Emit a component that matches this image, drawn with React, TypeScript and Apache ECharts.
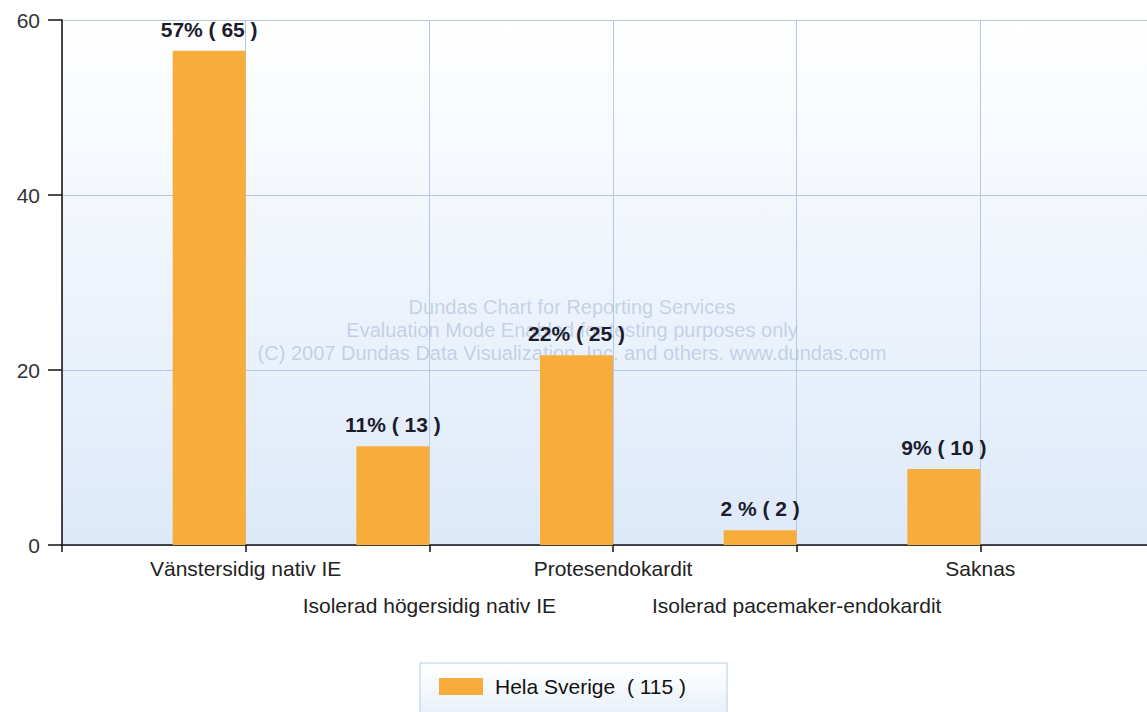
import React, { useEffect, useRef } from "react";
import * as echarts from "echarts";

const categories = [
  "Vänstersidig nativ IE",
  "Isolerad högersidig nativ IE",
  "Protesendokardit",
  "Isolerad pacemaker-endokardit",
  "Saknas",
];
const categoryPositions = [1, 2, 3, 4, 5];
const percentValues = [56.5, 11.3, 21.7, 1.7, 8.7];
const dataLabels = ["57% ( 65 )", "11% ( 13 )", "22% ( 25 )", "2 % ( 2 )", "9% ( 10 )"];
const seriesName = "Hela Sverige";
const seriesTotal = 115;
const yTicks = [0, 20, 40, 60];
const watermarkLines = [
  "Dundas Chart for Reporting Services",
  "Evaluation Mode Enabled for testing purposes only",
  "(C) 2007 Dundas Data Visualization, Inc. and others. www.dundas.com",
];

const FONT = "'Liberation Sans', Arial, sans-serif";
const CHART_W = 1200;

export default function App() {
  const ref = useRef<HTMLDivElement>(null);

  useEffect(() => {
    if (!ref.current) return;
    const chart = echarts.init(ref.current, null, { renderer: "svg" });

    const barData = categoryPositions.map((x, i) => [x, percentValues[i]]);
    const dummyData = categoryPositions.map((x) => [x, null]);

    chart.setOption({
      animation: false,
      backgroundColor: "#ffffff",
      textStyle: { fontFamily: FONT },
      grid: {
        left: 62,
        right: CHART_W - 1164,
        top: 20,
        bottom: 167,
        show: true,
        borderWidth: 0,
        backgroundColor: new echarts.graphic.LinearGradient(0, 0, 0, 1, [
          { offset: 0, color: "#ffffff" },
          { offset: 1, color: "#dde9f9" },
        ]),
      },
      xAxis: {
        type: "value",
        min: 0,
        max: 6,
        interval: 1,
        axisLine: { show: true, onZero: false, lineStyle: { color: "#111", width: 1.5 } },
        axisTick: { show: true, length: 7, lineStyle: { color: "#111", width: 1.5 } },
        splitLine: { show: true, lineStyle: { color: "#b3c9e6", width: 1 } },
        axisLabel: {
          margin: 5,
          fontSize: 21,
          lineHeight: 37,
          color: "#222",
          fontFamily: FONT,
          showMinLabel: true,
          showMaxLabel: true,
          formatter: (v: number) => {
            const i = Math.round(v) - 1;
            if (i < 0 || i >= categories.length) return "";
            return i % 2 === 0 ? categories[i] : "\n" + categories[i];
          },
        },
      },
      yAxis: {
        type: "value",
        min: yTicks[0],
        max: yTicks[yTicks.length - 1],
        interval: 20,
        axisLine: { show: true, lineStyle: { color: "#111", width: 1.5 } },
        axisTick: { show: true, length: 14, lineStyle: { color: "#111", width: 1.5 } },
        splitLine: { show: true, lineStyle: { color: "#b3c9e6", width: 1 } },
        axisLabel: { margin: 22, fontSize: 21, color: "#333", fontFamily: FONT },
      },
      legend: {
        data: [seriesName],
        left: 439,
        top: 676,
        padding: 0,
        itemWidth: 44,
        itemHeight: 17,
        icon: "rect",
        formatter: (name: string) => `${name}  ( ${seriesTotal} )`,
        textStyle: { fontSize: 21, color: "#111", fontFamily: FONT, padding: [0, 0, 0, 7] },
      },
      graphic: [
        {
          type: "rect",
          z: 0,
          shape: { x: 420, y: 663, width: 307, height: 60 },
          style: {
            fill: new echarts.graphic.LinearGradient(0, 0, 0, 1, [
              { offset: 0, color: "#ffffff" },
              { offset: 1, color: "#e6eef9" },
            ]),
            stroke: "#b8cce6",
            lineWidth: 1,
          },
        },
        ...watermarkLines.map((t, i) => ({
          type: "text",
          z: 1,
          silent: true,
          style: {
            text: t,
            x: 572,
            y: 307 + i * 23,
            textAlign: "center",
            textVerticalAlign: "middle",
            font: `20px ${FONT}`,
            fill: "rgba(140,160,195,0.42)",
          },
        })),
      ],
      series: [
        {
          name: seriesName,
          type: "bar",
          data: barData,
          barWidth: 73,
          barGap: "0%",
          itemStyle: { color: "#f8ad3b" },
          label: {
            show: true,
            position: "top",
            distance: 11,
            fontSize: 21,
            fontWeight: "bold",
            color: "#1c1c2c",
            fontFamily: FONT,
            formatter: (p: any) => dataLabels[p.dataIndex],
          },
        },
        {
          name: "spacer",
          type: "bar",
          data: dummyData,
          barWidth: 73,
          barGap: "0%",
          itemStyle: { color: "transparent" },
          label: { show: false },
        },
      ],
    });

    return () => chart.dispose();
  }, []);

  return (
    <div
      style={{
        position: "absolute",
        left: 0,
        top: 0,
        width: 1147,
        height: 712,
        overflow: "hidden",
      }}
    >
      <div ref={ref} style={{ width: CHART_W, height: 712 }} />
    </div>
  );
}
